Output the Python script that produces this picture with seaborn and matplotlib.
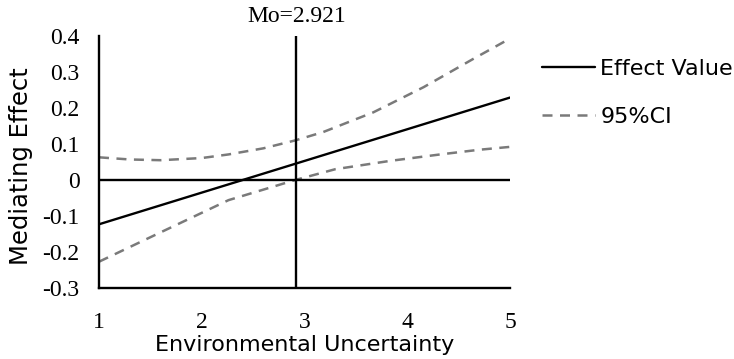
import matplotlib
matplotlib.use("Agg")
import matplotlib.pyplot as plt
import seaborn as sns
import pandas as pd
from matplotlib.lines import Line2D

effect_x = [1.0, 2.921, 5.0]
effect = [-0.123, 0.046, 0.229]
upper_x = [1.0, 1.3, 1.6, 2.0, 2.26, 2.6, 2.91, 3.18, 3.67, 4.16, 4.64, 5.0]
upper_ci = [0.063, 0.057, 0.055, 0.061, 0.071, 0.088, 0.110, 0.133, 0.188, 0.258, 0.336, 0.393]
lower_x = [1.0, 1.61, 2.26, 2.91, 3.3, 3.83, 4.32, 4.7, 5.0]
lower_ci = [-0.227, -0.144, -0.056, 0.0, 0.030, 0.053, 0.071, 0.084, 0.092]
mo_value = 2.921
x_ticks = [1, 2, 3, 4, 5]
y_ticks = [-0.3, -0.2, -0.1, 0, 0.1, 0.2, 0.3, 0.4]
y_tick_labels = ["-0.3", "-0.2", "-0.1", "0", "0.1", "0.2", "0.3", "0.4"]

sns.set_style("white")
plt.rcParams['font.family'] = ['DejaVu Sans']
plt.rcParams['text.color'] = 'black'
plt.rcParams['axes.labelcolor'] = 'black'
plt.rcParams['xtick.color'] = 'black'
plt.rcParams['ytick.color'] = 'black'

df_eff = pd.DataFrame({"x": effect_x, "y": effect})
df_up = pd.DataFrame({"x": upper_x, "y": upper_ci})
df_lo = pd.DataFrame({"x": lower_x, "y": lower_ci})

fig = plt.figure(figsize=(7.34, 3.59), dpi=100)
ax = fig.add_axes([99/734, 1-288/359, (510-99)/734, (288-36)/359])

dash = (0, (4, 3))
grey = "#7a7a7a"
sns.lineplot(data=df_eff, x="x", y="y", ax=ax, color="black", lw=1.7)
sns.lineplot(data=df_up, x="x", y="y", ax=ax, color=grey, lw=1.8, linestyle=dash)
sns.lineplot(data=df_lo, x="x", y="y", ax=ax, color=grey, lw=1.8, linestyle=dash)

ax.axhline(0, color="black", lw=1.7)
ax.axvline(mo_value, color="black", lw=1.7)

ax.set_xlim(1, 5)
ax.set_ylim(-0.3, 0.4)
for s in ["top", "right"]:
    ax.spines[s].set_visible(False)
for s in ["left", "bottom"]:
    ax.spines[s].set_color("black")
    ax.spines[s].set_linewidth(1.7)

ax.set_xticks(x_ticks)
ax.set_xticklabels([str(t) for t in x_ticks], family="Liberation Serif", fontsize=17)
ax.set_yticks(y_ticks)
ax.set_yticklabels(y_tick_labels, family="Liberation Serif", fontsize=17)
ax.tick_params(axis="both", length=0)
ax.tick_params(axis="y", pad=14)
ax.tick_params(axis="x", pad=17)

ax.set_xlabel("Environmental Uncertainty", fontsize=16, labelpad=2)
ax.set_ylabel("Mediating Effect", fontsize=17.5)
ax.yaxis.set_label_coords(-0.16, 0.485)

ax.text(mo_value, 0.425, "Mo=2.921", family="Liberation Serif", fontsize=17,
        ha="center", va="bottom", transform=ax.transData)

handles = [Line2D([], [], color="black", lw=1.7),
           Line2D([], [], color=grey, lw=1.8, linestyle=dash)]
fig.legend(handles, ["Effect Value", "95%CI"], loc="upper left",
           bbox_to_anchor=(542/734, 1-59/359), frameon=False, fontsize=16,
           handlelength=2.4, handletextpad=0.22, labelspacing=1.25,
           borderpad=0, borderaxespad=0)

fig.savefig("out.png", dpi=100)
